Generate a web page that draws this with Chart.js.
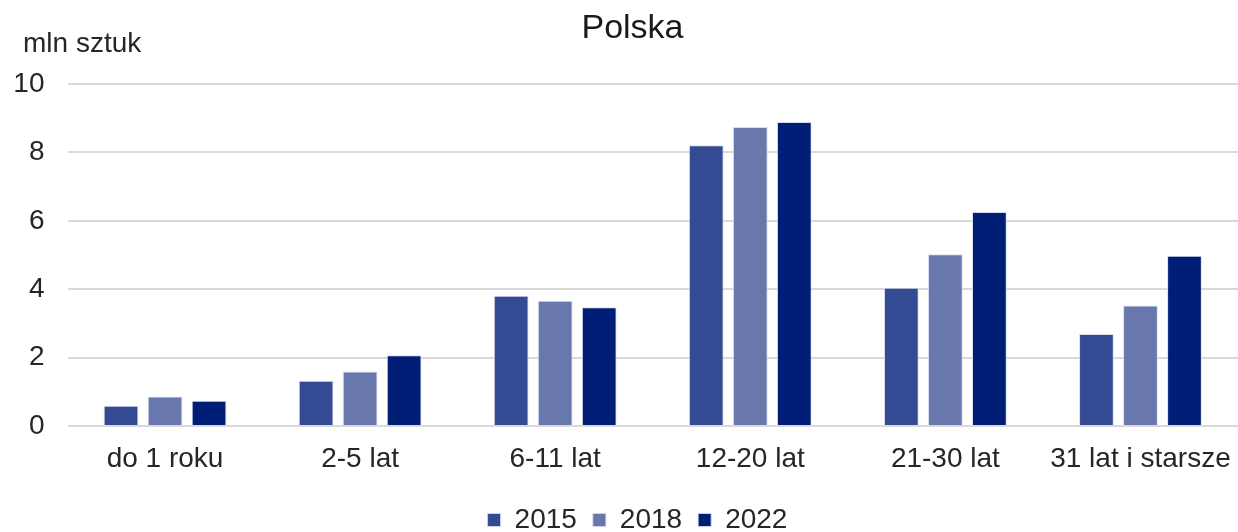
<!DOCTYPE html>
<html>
<head>
<meta charset="utf-8">
<script src="https://cdn.jsdelivr.net/npm/chart.js@4.4.1/dist/chart.umd.min.js"></script>
<style>
  html, body { margin: 0; padding: 0; background: #ffffff; }
  #wrap { width: 1238px; height: 532px; position: relative; }
</style>
</head>
<body>
<div id="wrap"><canvas id="c" width="1238" height="532"></canvas></div>
<script>
const categories = ['do 1 roku', '2-5 lat', '6-11 lat', '12-20 lat', '21-30 lat', '31 lat i starsze'];
const seriesNames = ['2015', '2018', '2022'];
const values2015 = [0.59, 1.32, 3.81, 8.21, 4.04, 2.69];
const values2018 = [0.86, 1.59, 3.66, 8.74, 5.02, 3.52];
const values2022 = [0.74, 2.07, 3.47, 8.89, 6.26, 4.98];
const yTicks = [0, 2, 4, 6, 8, 10];
const chartTitle = 'Polska';
const unitLabel = 'mln sztuk';

const FONT = "'Liberation Sans', Arial, sans-serif";
const TEXT = '#262626';
const colors = ['#344a92', '#6877ac', '#001e76'];

const unitPlugin = {
  id: 'unitLabel',
  afterLayout(chart) {
    // shift title and legend centring to match the reference
    if (chart.titleBlock) { chart.titleBlock.left += 27; }
    if (chart.legend) { chart.legend.left += 37; }
  },
  afterDraw(chart) {
    const ctx = chart.ctx;
    ctx.save();
    ctx.font = '28px ' + FONT;
    ctx.fillStyle = TEXT;
    ctx.textAlign = 'left';
    ctx.textBaseline = 'middle';
    ctx.fillText(unitLabel, 23, 44);
    ctx.restore();
  }
};

const seriesValues = [values2015, values2018, values2022];

new Chart(document.getElementById('c'), {
  type: 'bar',
  data: {
    labels: categories,
    datasets: seriesNames.map((name, i) => ({
      label: name,
      data: seriesValues[i],
      backgroundColor: colors[i],
      borderColor: 'rgba(210,216,236,0.85)',
      borderWidth: 1,
      categoryPercentage: 0.677,
      barPercentage: 0.79
    }))
  },
  options: {
    responsive: false,
    animation: false,
    events: [],
    layout: { padding: { left: 0, right: 0, top: 0, bottom: -12 } },
    plugins: {
      title: {
        display: true,
        text: chartTitle,
        color: '#1a1a1a',
        font: { family: FONT, size: 34, weight: 'normal', lineHeight: 1.2 },
        padding: { top: 8, bottom: 35.2 }
      },
      legend: {
        position: 'bottom',
        labels: {
          color: TEXT,
          font: { family: FONT, size: 28 },
          boxWidth: 13,
          boxHeight: 13,
          padding: 16
        }
      },
      tooltip: { enabled: false }
    },
    scales: {
      x: {
        grid: { display: false, drawTicks: false },
        border: { display: false },
        ticks: { color: TEXT, font: { family: FONT, size: 28 }, padding: 16, maxRotation: 0, autoSkip: false },
        afterFit(scale) { scale.height = 64; scale.paddingLeft = 0; scale.paddingRight = 0; }
      },
      y: {
        min: 0,
        max: 10,
        afterBuildTicks(scale) { scale.ticks = yTicks.map(v => ({ value: v })); },
        grid: { color: '#d9d9d9', lineWidth: 2, drawTicks: false },
        border: { display: false },
        ticks: { color: TEXT, font: { family: FONT, size: 28 }, padding: 23 },
        afterFit(scale) { scale.width = 67.5; }
      }
    }
  },
  plugins: [unitPlugin]
});
</script>
</body>
</html>
